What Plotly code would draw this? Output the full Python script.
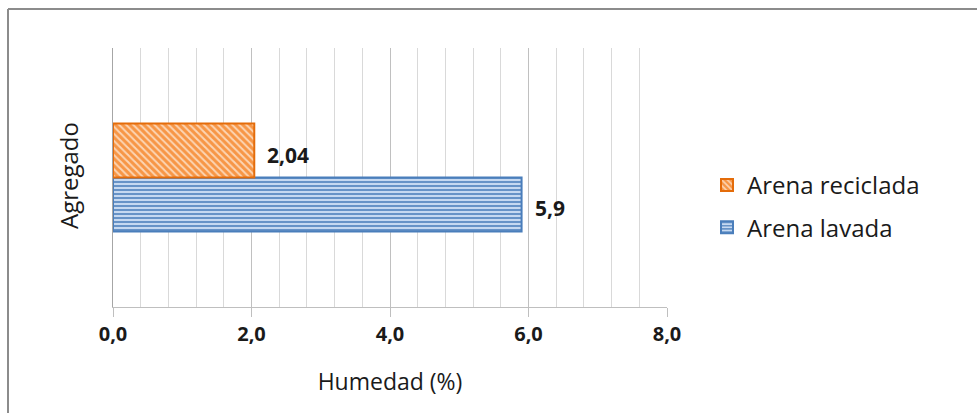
import plotly.graph_objects as go

# Moisture content (%) per aggregate type
category = ["Agregado"]
series_names = ["Arena lavada", "Arena reciclada"]
series_values = [[5.9], [2.04]]
x_ticks = [0, 2, 4, 6, 8]

FONT = "Open Sans"
TXT = "#1a1a1a"

styles = {
    "Arena lavada": dict(bg="#c6d9f1", fg="#4f81bd", line="#4a7ebb", shape="-", size=4, rank=2),
    "Arena reciclada": dict(bg="#f79646", fg="#fcd5b4", line="#e46c0a", shape="\\", size=5, rank=1),
}

def fmt(v):
    return f"{v}".replace(".", ",")

fig = go.Figure()
annotations = []
for name, vals in zip(series_names, series_values):
    st = styles[name]
    fig.add_trace(go.Bar(
        y=category, x=vals, name=name, orientation="h",
        legendgroup=name, legendrank=st["rank"],
        marker=dict(
            color=st["bg"],
            line=dict(color=st["line"], width=2),
            pattern=dict(shape=st["shape"], fgcolor=st["fg"], bgcolor=st["bg"],
                         size=st["size"], solidity=0.4, fillmode="replace"),
        ),
    ))

W, H = 977, 413
L, R, T, B = 113, 310, 48, 106
pw, ph = W - L - R, H - T - B

def px(x):
    return (x - L) / pw

def py(y):
    return (H - B - y) / ph

# value labels placed just past the end of each bar
bar_offsets = {"Arena reciclada": 0.104, "Arena lavada": -0.104}
for name, vals in zip(series_names, series_values):
    for v in vals:
        annotations.append(dict(
            x=v, y=0.5 + bar_offsets[name], xref="x", yref="paper",
            text=fmt(v), showarrow=False, xanchor="left",
            xshift=11, yshift=-4,
            font=dict(family=FONT, size=21, color=TXT, weight="bold"),
        ))

annotations.append(dict(
    text="Agregado", textangle=-90, x=px(68), y=py(176),
    xref="paper", yref="paper", showarrow=False,
    xanchor="center", yanchor="middle",
    font=dict(family=FONT, size=24, color=TXT),
))

fig.update_layout(
    width=W, height=H,
    margin=dict(l=L, r=R, t=T, b=B),
    paper_bgcolor="white", plot_bgcolor="white",
    barmode="group", bargap=0.583, bargroupgap=0,
    separators=",.",
    font=dict(family=FONT, color=TXT),
    showlegend=True,
    legend=dict(x=px(707), y=py(163), xanchor="left", yanchor="top",
                traceorder="grouped", tracegroupgap=8,
                font=dict(family=FONT, size=24, color=TXT),
                itemwidth=30, bgcolor="rgba(0,0,0,0)"),
    xaxis=dict(
        range=[0, 8], tickvals=x_ticks, tickformat=".1f",
        tickfont=dict(family=FONT, size=20, color=TXT, weight="bold"),
        showgrid=True, gridcolor="#c0c0c0", gridwidth=1,
        minor=dict(dtick=0.4, showgrid=True, gridcolor="#d9d9d9", gridwidth=1),
        showline=True, linecolor="#bfbfbf", linewidth=1,
        ticks="outside", ticklen=9, tickcolor="#bfbfbf",
        zeroline=False,
        title=dict(text="Humedad (%)", font=dict(family=FONT, size=23, color=TXT), standoff=27),
    ),
    yaxis=dict(
        showticklabels=False, showgrid=False, zeroline=False,
        showline=True, linecolor="#a6a6a6", linewidth=1, ticks="",
    ),
    annotations=annotations,
    shapes=[
        dict(type="line", xref="paper", yref="paper", x0=px(8), x1=px(W + 5),
             y0=py(9), y1=py(9), line=dict(color="#8c8c8c", width=2)),
        dict(type="line", xref="paper", yref="paper", x0=px(8), x1=px(8),
             y0=py(9), y1=py(H + 5), line=dict(color="#8c8c8c", width=2)),
    ],
)

fig.write_html("out.html")
